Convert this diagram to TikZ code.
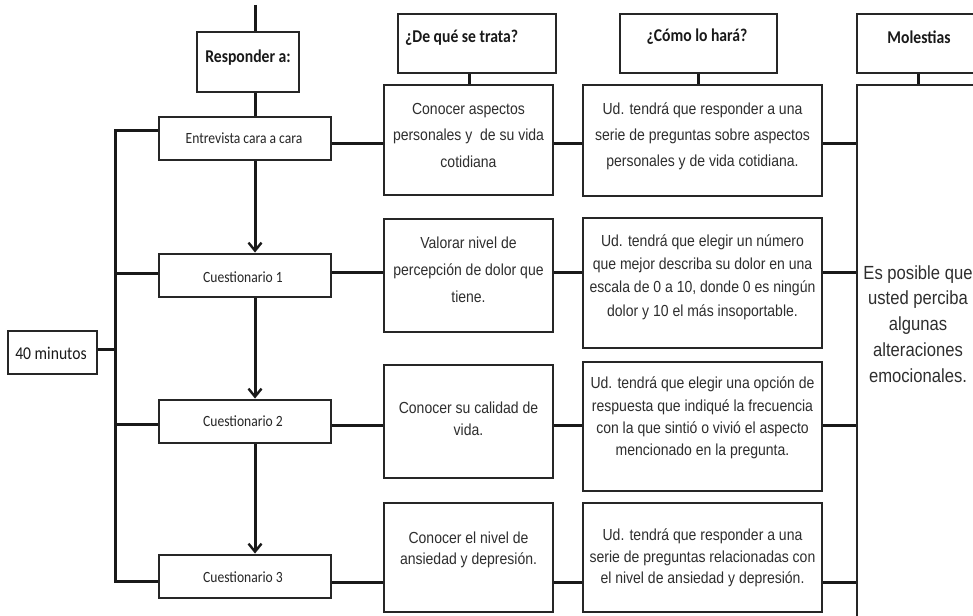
\documentclass[tikz,border=0pt]{standalone}
\usepackage{fontspec}
\setmainfont{Liberation Sans}[FakeStretch=0.875]
\newfontfamily\calf{Carlito}[FakeStretch=0.87]
\usetikzlibrary{arrows.meta}
\tikzset{
  box/.style={draw=black!85, line width=2.9pt, inner sep=0pt, fill=white},
  conn/.style={line width=3pt, draw=black!90},
  arr/.style={conn, -{Straight Barb[length=8pt,width=13pt,line width=2.4pt]}},
  hdr/.style={font=\calf\bfseries\fontsize{18}{20}\selectfont, text=black!90, inner sep=0pt},
  lbl/.style={font=\calf\fontsize{15.6}{18}\selectfont, text=black!85, inner sep=0pt},
  body/.style={align=center, text=black!82, inner sep=0pt},
}
\newcommand{\bodyf}[1]{\fontsize{16}{#1}\selectfont}
\begin{document}
\begin{tikzpicture}[x=1pt,y=-1pt]
\useasboundingbox (0,0) rectangle (973,615);
\clip (0,0) rectangle (973,615);
\fill[white] (0,0) rectangle (973,615);

% left column boxes
\node[box, minimum width=102pt, minimum height=60pt] (resp) at (248,62) {};
\node[box, minimum width=172pt, minimum height=43pt] (ent) at (245,138.5) {};
\node[box, minimum width=172pt, minimum height=43pt] (c1) at (245,275.5) {};
\node[box, minimum width=172pt, minimum height=43pt] (c2) at (245,421.5) {};
\node[box, minimum width=172pt, minimum height=43pt] (c3) at (245,576.5) {};
\node[box, minimum width=89pt, minimum height=43pt] (min) at (52.5,352.5) {};

% headers
\node[box, minimum width=158pt, minimum height=59pt] (h1) at (477,43.5) {};
\node[box, minimum width=157pt, minimum height=59pt] (h2) at (698.5,43.5) {};
\node[box, minimum width=124pt, minimum height=59pt] (h3) at (919,43.5) {};

% column 2
\node[box, minimum width=169pt, minimum height=110pt] (b21) at (468.5,140) {};
\node[box, minimum width=169pt, minimum height=113pt] (b22) at (468.5,275.5) {};
\node[box, minimum width=169pt, minimum height=113pt] (b23) at (468.5,421.5) {};
\node[box, minimum width=169pt, minimum height=109pt] (b24) at (468.5,557.5) {};
% column 3
\node[box, minimum width=239pt, minimum height=111pt] (b31) at (702.5,140.5) {};
\node[box, minimum width=239pt, minimum height=130pt] (b32) at (702.5,283) {};
\node[box, minimum width=239pt, minimum height=129pt] (b33) at (702.5,426.5) {};
\node[box, minimum width=239pt, minimum height=109pt] (b34) at (702.5,557.5) {};
% molestias column
\node[box, minimum width=124pt, minimum height=555pt] (mbox) at (919,362.5) {};

% texts
\node[hdr] (tresp) at (248,58) {Responder a:};
\node[hdr, anchor=west] (th1) at (405,38) {¿De qué se trata?};
\node[hdr] (th2) at (697,37) {¿Cómo lo hará?};
\node[hdr] (th3) at (919,37) {Molestias};
\node[lbl] (tent) at (244,138) {Entrevista cara a cara};
\node[lbl] (tc1) at (243,277) {Cuestionario 1};
\node[lbl] (tc2) at (243,421) {Cuestionario 2};
\node[lbl] (tc3) at (243,577) {Cuestionario 3};
\node[lbl, font=\calf\fontsize{18}{20}\selectfont, text=black!90] (tmin) at (51,353) {40 minutos};

\node[body, font=\bodyf{26.5}] (t21) at (468.5,135) {Conocer aspectos\\personales y\ \ de su vida\\cotidiana};
\node[body, font=\bodyf{27}] (t22) at (468.5,270) {Valorar nivel de\\percepción de dolor que\\tiene.};
\node[body, font=\bodyf{22}] (t23) at (468.5,419) {Conocer su calidad de\\vida.};
\node[body, font=\bodyf{21}] (t24) at (468.5,550) {Conocer el nivel de\\ansiedad y depresión.};
\node[body, font=\bodyf{26}] (t31) at (702.5,136) {Ud. tendrá que responder a una\\serie de preguntas sobre aspectos\\personales y de vida cotidiana.};
\node[body, font=\bodyf{23.3}] (t32) at (702.5,277) {Ud. tendrá que elegir un número\\que mejor describa su dolor en una\\escala de 0 a 10, donde 0 es ningún\\dolor y 10 el más insoportable.};
\node[body, font=\bodyf{22.3}] (t33) at (702.5,418) {Ud. tendrá que elegir una opción de\\respuesta que indiqué la frecuencia\\con la que sintió o vivió el aspecto\\mencionado en la pregunta.};
\node[body, font=\bodyf{21.5}] (t34) at (702.5,558) {Ud. tendrá que responder a una\\serie de preguntas relacionadas con\\el nivel de ansiedad y depresión.};
\node[body, font=\fontsize{19}{25.8}\selectfont] (tm) at (918,324) {Es posible que\\usted perciba\\algunas\\alteraciones\\emocionales.};

% coordinates for connectors
\coordinate (top) at (255,5);
\coordinate (ax) at (255,0);
\coordinate (s0) at (115,130);
\coordinate (s1) at (115,273);
\coordinate (s2) at (115,424);
\coordinate (s3) at (115,581);
\coordinate (sm) at (115,349);
\coordinate (r0) at (0,143);
\coordinate (r1) at (0,272);
\coordinate (r2) at (0,425);
\coordinate (r3) at (0,582);
\coordinate (hx1) at (469,0);
\coordinate (hx2) at (698,0);
\coordinate (hx3) at (918,0);

% vertical flow
\draw[conn] (top) -- (resp.north -| top);
\draw[conn] (resp.south -| ax) -- (ent.north -| ax);
\draw[arr] (ent.south -| ax) -- (c1.north -| ax);
\draw[arr] (c1.south -| ax) -- (c2.north -| ax);
\draw[arr] (c2.south -| ax) -- (c3.north -| ax);

% left bus
\draw[conn] (ent.west |- s0) -- (s0) -- (s3) -- (c3.west |- s3);
\draw[conn] (s1) -- (c1.west |- s1);
\draw[conn] (s2) -- (c2.west |- s2);
\draw[conn] (min.east |- sm) -- (sm);

% rows
\draw[conn] (ent.east |- r0) -- (b21.west |- r0);
\draw[conn] (b21.east |- r0) -- (b31.west |- r0);
\draw[conn] (b31.east |- r0) -- (mbox.west |- r0);
\draw[conn] (c1.east |- r1) -- (b22.west |- r1);
\draw[conn] (b22.east |- r1) -- (b32.west |- r1);
\draw[conn] (b32.east |- r1) -- (mbox.west |- r1);
\draw[conn] (c2.east |- r2) -- (b23.west |- r2);
\draw[conn] (b23.east |- r2) -- (b33.west |- r2);
\draw[conn] (b33.east |- r2) -- (mbox.west |- r2);
\draw[conn] (c3.east |- r3) -- (b24.west |- r3);
\draw[conn] (b24.east |- r3) -- (b34.west |- r3);
\draw[conn] (b34.east |- r3) -- (mbox.west |- r3);

% header connectors
\draw[conn] (h1.south -| hx1) -- (b21.north -| hx1);
\draw[conn] (h2.south -| hx2) -- (b31.north -| hx2);
\draw[conn] (h3.south -| hx3) -- (mbox.north -| hx3);
\end{tikzpicture}
\end{document}
